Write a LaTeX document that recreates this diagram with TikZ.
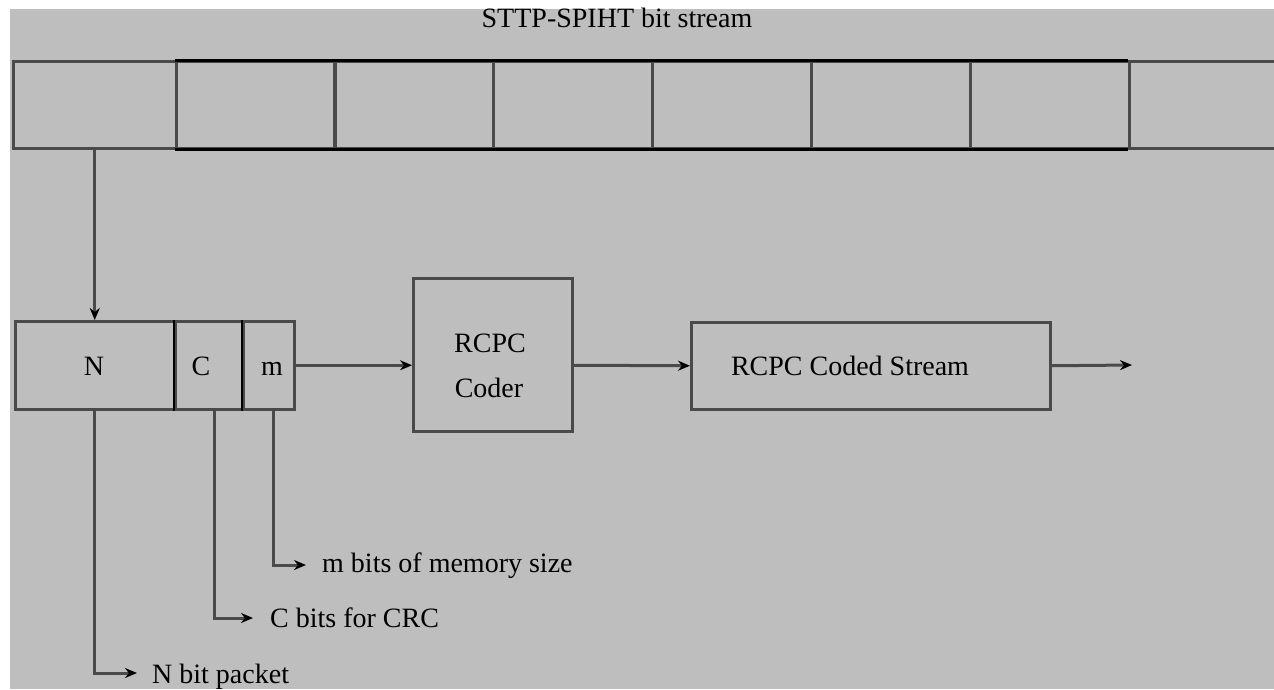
\documentclass[tikz,border=0pt]{standalone}
\usepackage{fontspec}
\setmainfont{Liberation Serif}
\usetikzlibrary{arrows.meta}
\definecolor{bggray}{HTML}{BEBEBE}
\definecolor{ln}{HTML}{4A4A4A}
\begin{document}
\begin{tikzpicture}[x=1pt,y=-1pt,
  lbl/.style={font=\fontsize{28}{32}\selectfont, text=black, inner sep=0pt},
  cell/.style={draw=ln, line width=2.5pt, minimum width=159pt, minimum height=87pt, inner sep=0pt, anchor=north west},
  blk/.style={draw=ln, line width=2.5pt, inner sep=0pt, anchor=north west},
  conn/.style={draw=ln, line width=3pt, -{Stealth[length=12pt,width=10pt,color=black]}}
]
\useasboundingbox (0,0) rectangle (1274,689);
\clip (0,0) rectangle (1274,689);
\fill[bggray] (10,9) rectangle (1274,689);

% title
\node[lbl, anchor=base] (title) at (617,27) {STTP-SPIHT bit stream};

% bit stream cells
\node[cell, minimum width=163pt] (c1) at (12,60) {};
\node[cell] (c2) at (175,60) {};
\node[cell] (c3) at (333,60) {};
\node[cell] (c4) at (492,60) {};
\node[cell] (c5) at (651,60) {};
\node[cell] (c6) at (810,60) {};
\node[cell] (c7) at (969,60) {};
\node[cell] (c8) at (1128,60) {};
\draw[black, line width=3pt] (c2.north west) -- (c8.north west);
\draw[black, line width=3pt] (c2.south west) -- (c8.south west);

% packet
\node[blk, minimum width=160pt, minimum height=88pt] (nb) at (14,320) {};
\node[lbl, anchor=base] (nlab) at (94,375) {N};
\node[blk, minimum width=68pt, minimum height=88pt] (cb) at (174,320) {};
\node[lbl, anchor=base] (clab) at (201,375) {C};
\node[blk, minimum width=51pt, minimum height=88pt] (mb) at (242,320) {};
\node[lbl, anchor=base] (mlab) at (272,375) {m};
\draw[black, line width=2.5pt] (cb.north west) -- (cb.south west);
\draw[black, line width=2.5pt] (mb.north west) -- (mb.south west);

% coder
\node[blk, minimum width=159pt, minimum height=153pt] (coder) at (412,277) {};
\node[lbl, anchor=base] (coderlab1) at (490,352) {RCPC};
\node[lbl, anchor=base] (coderlab2) at (489,397) {Coder};

% coded stream
\node[blk, minimum width=359pt, minimum height=87pt] (cs) at (690,321) {};
\node[lbl, anchor=base] (cslab) at (850,375) {RCPC Coded Stream};

\coordinate (outend) at (1132,365);
\draw[conn] (c1.south) -- (nb.north -| c1.south);
\draw[conn] (mb.east) -- (coder.west |- mb.east);
\draw[conn] (coder.east |- mb.east) -- (cs.west);
\draw[conn] (cs.east) -- (outend);

% annotations
\node[lbl, anchor=base west] (mtxt) at (322,572) {m bits of memory size};
\node[lbl, anchor=base west] (ctxt) at (270,627) {C bits for CRC};
\node[lbl, anchor=base west] (ntxt) at (152,683) {N bit packet};
\coordinate (mtop) at (273,408);
\coordinate (ctop) at (214,408);
\coordinate (ntop) at (94,408);
\coordinate (mend) at (306,565);
\coordinate (cend) at (253,618);
\coordinate (nend) at (137,673);
\draw[conn] (mtop) |- (mend);
\draw[conn] (ctop) |- (cend);
\draw[conn] (ntop) |- (nend);
\end{tikzpicture}
\end{document}
